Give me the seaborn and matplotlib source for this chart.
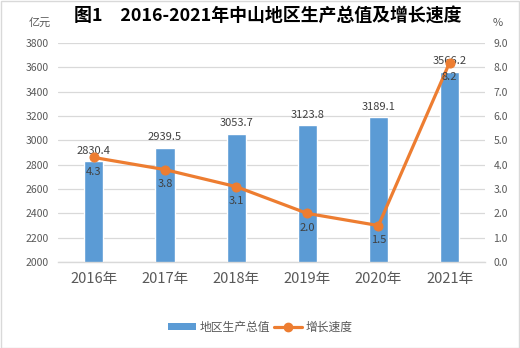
import matplotlib
matplotlib.use("Agg")
import matplotlib.pyplot as plt
import seaborn as sns
import numpy as np
import pandas as pd
from matplotlib.patches import Rectangle
from matplotlib.lines import Line2D
from matplotlib.patches import Patch

years = ["2016年", "2017年", "2018年", "2019年", "2020年", "2021年"]
gdp = [2830.4, 2939.5, 3053.7, 3123.8, 3189.1, 3566.2]
growth = [4.3, 3.8, 3.1, 2.0, 1.5, 8.2]
left_ticks = list(range(2000, 3801, 200))
right_ticks = [0.0, 1.0, 2.0, 3.0, 4.0, 5.0, 6.0, 7.0, 8.0, 9.0]

sns.set_theme(style="white")
plt.rcParams['font.family'] = ['Noto Sans CJK SC', 'DejaVu Sans']

BLUE = "#5B9BD5"
ORANGE = "#ED7D31"
TXT = "#595959"
GRID = "#D9D9D9"

fig = plt.figure(figsize=(5.2, 3.48), dpi=100)
ax = fig.add_axes([0.112, 0.247, 0.821, 0.629])

df = pd.DataFrame({"year": years, "gdp": gdp, "growth": growth})
sns.barplot(data=df, x="year", y="gdp", color=BLUE, saturation=1, width=0.27, ax=ax, zorder=2)
ax.set_ylim(2000, 3800)
ax.set_yticks(left_ticks)
ax.set_yticklabels([str(t) for t in left_ticks], fontsize=7.5, color=TXT)
ax.yaxis.grid(True, color=GRID, linewidth=0.9, zorder=0)
ax.set_axisbelow(True)
for s in ["top", "right", "left"]:
    ax.spines[s].set_visible(False)
ax.spines["bottom"].set_color(GRID)
ax.spines["bottom"].set_linewidth(1.0)
ax.tick_params(axis="both", length=0)
ax.tick_params(axis="x", labelsize=10.5, labelcolor=TXT, pad=7)
ax.tick_params(axis="y", pad=7)
ax.set_xlabel("")
ax.set_ylabel("")
ax.set_xlim(-0.5, 5.5)

for i, v in enumerate(gdp):
    ax.text(i, v + 45, f"{v:.1f}", ha="center", va="bottom", fontsize=8, color="#404040", zorder=5)

ax2 = ax.twinx()
sns.lineplot(x=np.arange(len(growth)), y=growth, color=ORANGE, linewidth=2.3,
             marker="o", markersize=6.5, markeredgecolor=ORANGE, ax=ax2, zorder=4)
ax2.set_ylim(0, 9)
ax2.set_yticks(right_ticks)
ax2.set_yticklabels([f"{t:.1f}" for t in right_ticks], fontsize=7.5, color=TXT)
ax2.tick_params(axis="y", length=0, pad=6)
for s in ["top", "right", "left", "bottom"]:
    ax2.spines[s].set_visible(False)
ax2.set_xlim(-0.5, 5.5)
ax2.set_ylabel("")

for i, v in enumerate(growth):
    ax2.text(i, v - 0.4, f"{v:.1f}", ha="center", va="top", fontsize=8, color="#404040", zorder=5)

fig.text(0.515, 0.952, "图1　2016-2021年中山地区生产总值及增长速度", ha="center", va="center",
         fontsize=12.9, fontweight="bold", color="#000000")
fig.text(0.077, 0.935, "亿元", ha="center", va="center", fontsize=8, color=TXT)
fig.text(0.957, 0.935, "%", ha="center", va="center", fontsize=8, color=TXT)

handles = [Patch(facecolor=BLUE, edgecolor="none"),
           Line2D([0], [0], color=ORANGE, linewidth=2.3, marker="o", markersize=6)]
fig.legend(handles, ["地区生产总值", "增长速度"], loc="center", bbox_to_anchor=(0.5, 0.06),
           ncol=2, frameon=False, fontsize=8.5, labelcolor=TXT, handlelength=2.4,
           handleheight=0.6, columnspacing=0.3, handletextpad=0.3)

fig.patches.append(Rectangle((0.001, 0.001), 0.997, 0.997, transform=fig.transFigure,
                             fill=False, edgecolor="#D9D9D9", linewidth=1))

fig.savefig("out.png", dpi=100)
